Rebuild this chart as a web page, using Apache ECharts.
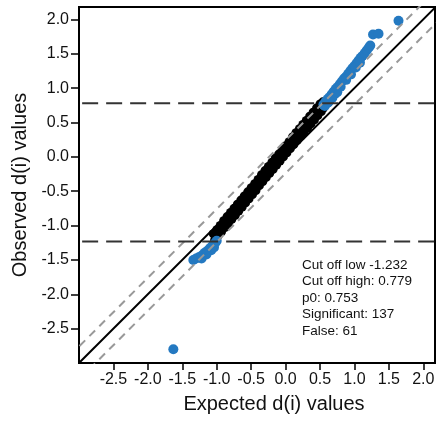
<!DOCTYPE html>
<html>
<head>
<meta charset="utf-8">
<script src="https://cdn.jsdelivr.net/npm/echarts@6/dist/echarts.min.js"></script>
<style>html,body{margin:0;padding:0;background:#fff}#c{width:441px;height:421px}</style>
</head>
<body>
<div id="c"></div>
<script>
// ---- data ----
const expectedBlackA = [-1.05,-1.00,-0.95,-0.90,-0.85,-0.80,-0.75,-0.70,-0.65,-0.60,-0.55,-0.50,-0.45,-0.40,-0.35,-0.30,-0.25,-0.20,-0.15,-0.10,-0.05,0.00,0.05,0.10,0.15,0.20,0.25,0.30,0.35,0.40,0.45,0.50,0.54];
const observedBlackA = [-1.12,-1.06,-1.00,-0.93,-0.87,-0.81,-0.75,-0.69,-0.63,-0.57,-0.51,-0.45,-0.39,-0.33,-0.26,-0.20,-0.14,-0.08,-0.02,0.04,0.10,0.16,0.22,0.29,0.35,0.41,0.47,0.53,0.59,0.65,0.71,0.77,0.80];
const expectedBlackB = [-1.03,-0.98,-0.93,-0.88,-0.83,-0.78,-0.73,-0.68,-0.63,-0.58,-0.53,-0.48,-0.43,-0.38,-0.33,-0.28,-0.23,-0.18,-0.13,-0.08,-0.03,0.02,0.07,0.12,0.17,0.22,0.27,0.32,0.37,0.42,0.47,0.52,0.55];
const observedBlackB = [-1.21,-1.15,-1.09,-1.03,-0.97,-0.91,-0.85,-0.79,-0.73,-0.67,-0.61,-0.55,-0.49,-0.42,-0.36,-0.30,-0.24,-0.18,-0.12,-0.06,0.00,0.06,0.12,0.18,0.24,0.30,0.36,0.42,0.48,0.54,0.60,0.66,0.71];

const expectedSigHigh = [0.55,0.58,0.61,0.64,0.67,0.70,0.73,0.76,0.79,0.82,0.85,0.88,0.91,0.94,0.97,1.00,1.03,1.06,1.09,1.12,1.15,1.18,1.21,1.23,1.27,1.35,1.64,0.60,0.65,0.72,0.80,0.88,0.95,1.02,1.08,0.57,0.62,0.68,0.75];
const observedSigHigh = [0.76,0.80,0.84,0.87,0.91,0.95,0.99,1.02,1.06,1.10,1.14,1.17,1.21,1.25,1.29,1.32,1.36,1.40,1.44,1.47,1.51,1.55,1.59,1.62,1.78,1.79,1.98,0.78,0.84,0.92,1.02,1.12,1.20,1.30,1.37,0.74,0.79,0.86,0.94];

const expectedSigLow = [-1.34,-1.30,-1.26,-1.22,-1.18,-1.14,-1.10,-1.06,-1.02,-1.00,-1.08,-1.15,-1.22,-1.04,-1.63];
const observedSigLow = [-1.50,-1.48,-1.46,-1.44,-1.40,-1.37,-1.33,-1.29,-1.25,-1.22,-1.36,-1.42,-1.48,-1.32,-2.80];

const cutLow = -1.232;
const cutHigh = 0.779;
const delta = 0.24;
const xMin = -3.0, xMax = 2.17;
const yMin = -3.0, yMax = 2.18;
const xTicks = [-2.5,-2.0,-1.5,-1.0,-0.5,0.0,0.5,1.0,1.5,2.0];
const yTicks = [-2.5,-2.0,-1.5,-1.0,-0.5,0.0,0.5,1.0,1.5,2.0];
const xTitle = 'Expected d(i) values';
const yTitle = 'Observed d(i) values';
const infoLines = ['Cut off low -1.232','Cut off high: 0.779','p0: 0.753','Significant: 137','False: 61'];

// ---- build ----
const zip = (a, b) => a.map((v, i) => [v, b[i]]);
const FONT = 'Liberation Sans, Arial, Helvetica, sans-serif';
const lo = Math.min(xMin, yMin) - 1, hi = Math.max(xMax, yMax) + 1;

const chart = echarts.init(document.getElementById('c'), null, {renderer: 'canvas'});
chart.setOption({
  animation: false,
  backgroundColor: '#fff',
  grid: {left: 79, right: 6, top: 7, bottom: 58, show: true, borderColor: '#000', borderWidth: 2, backgroundColor: 'transparent'},
  xAxis: {
    type: 'value', min: xMin, max: xMax,
    name: xTitle, nameLocation: 'middle', nameGap: 31,
    nameTextStyle: {fontFamily: FONT, fontSize: 20, color: '#111', padding: [0, 0, 0, 34]},
    axisLine: {show: true, onZero: false, lineStyle: {color: '#000', width: 2}},
    splitLine: {show: false},
    axisTick: {show: true, inside: false, length: 7, lineStyle: {color: '#000', width: 1.5}, customValues: xTicks},
    axisLabel: {margin: 9, fontFamily: FONT, fontSize: 16, color: '#111', customValues: xTicks, formatter: v => v.toFixed(1)}
  },
  yAxis: {
    type: 'value', min: yMin, max: yMax,
    name: yTitle, nameLocation: 'middle', nameGap: 48, nameRotate: 90,
    nameTextStyle: {fontFamily: FONT, fontSize: 20, color: '#111'},
    axisLine: {show: true, onZero: false, lineStyle: {color: '#000', width: 2}},
    splitLine: {show: false},
    axisTick: {show: true, inside: false, length: 8, lineStyle: {color: '#000', width: 1.5}, customValues: yTicks},
    axisLabel: {margin: 10, fontFamily: FONT, fontSize: 16, color: '#111', customValues: yTicks, formatter: v => v.toFixed(1)}
  },
  series: [
    {type: 'scatter', data: zip(expectedBlackA, observedBlackA), symbolSize: 9, itemStyle: {color: '#000', opacity: 1}, z: 2},
    {type: 'scatter', data: zip(expectedBlackB, observedBlackB), symbolSize: 9, itemStyle: {color: '#000', opacity: 1}, z: 2},
    {type: 'scatter', data: zip(expectedSigHigh, observedSigHigh), symbolSize: 10, itemStyle: {color: '#2479c1', opacity: 1}, z: 2},
    {type: 'scatter', data: zip(expectedSigLow, observedSigLow), symbolSize: 10, itemStyle: {color: '#2479c1', opacity: 1}, z: 2},
    {type: 'line', data: [[lo, lo], [hi, hi]], symbol: 'none', clip: true, lineStyle: {color: '#000', width: 2}, z: 4},
    {type: 'line', data: [[lo, lo + delta], [hi, hi + delta]], symbol: 'none', clip: true, lineStyle: {color: '#999', width: 2, type: [8, 6]}, z: 4},
    {type: 'line', data: [[lo, lo - delta], [hi, hi - delta]], symbol: 'none', clip: true, lineStyle: {color: '#999', width: 2, type: [8, 6]}, z: 4},
    {type: 'line', data: [[lo, cutHigh], [hi, cutHigh]], symbol: 'none', clip: true, lineStyle: {color: '#333', width: 2, type: [16, 8]}, z: 4},
    {type: 'line', data: [[lo, cutLow], [hi, cutLow]], symbol: 'none', clip: true, lineStyle: {color: '#333', width: 2, type: [16, 8]}, z: 4}
  ],
  graphic: [{
    type: 'text', left: 302, top: 257, z: 10,
    style: {text: infoLines.join('\n'), fontFamily: FONT, fontSize: 13.5, lineHeight: 16.5, fill: '#111'}
  }]
});
</script>
</body>
</html>
